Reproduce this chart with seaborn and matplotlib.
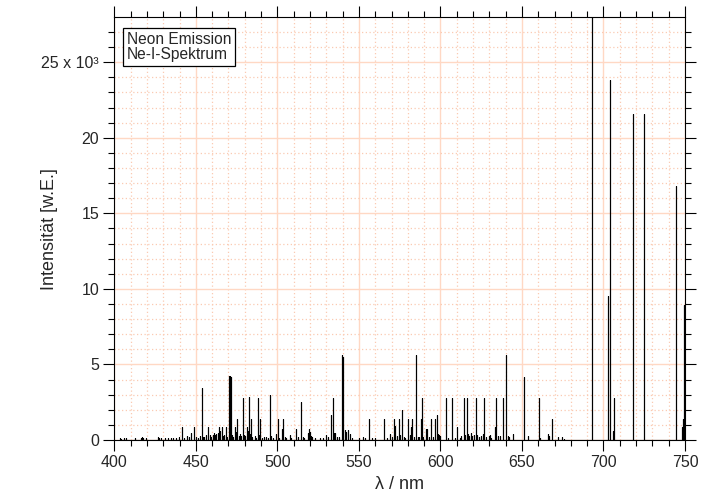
import numpy as np
import pandas as pd
import matplotlib
matplotlib.use("Agg")
import matplotlib.pyplot as plt
import seaborn as sns
from matplotlib.ticker import MultipleLocator, FuncFormatter

# ---- data: emission lines (wavelength in nm, intensity in w.E.) ----
wavelength_nm = [
    403.3, 404.2, 406.0, 407.4, 412.6, 416.3, 416.9, 417.6, 419.3, 426.6,
    427.3, 428.6, 430.9, 433.0, 434.5, 436.1, 438.1, 439.6, 441.8, 443.0,
    444.4, 445.7, 447.0, 448.7, 450.0, 451.2, 452.4, 453.6, 454.3, 455.3,
    456.5, 457.6, 458.5, 459.5, 460.8, 461.4, 462.0, 462.6, 463.3, 464.1,
    464.8, 465.8, 466.6, 467.4, 468.2, 469.0, 470.2, 470.6, 471.0, 471.5,
    472.2, 473.0, 474.3, 474.8, 475.4, 476.2, 477.0, 478.0, 478.9, 479.6,
    480.4, 481.1, 481.6, 482.1, 482.6, 483.3, 484.0, 484.7, 486.0, 487.0,
    488.1, 488.8, 489.5, 490.5, 491.6, 493.0, 494.2, 495.5, 496.4, 497.5,
    499.2, 500.4, 501.3, 502.8, 503.7, 504.5, 505.5, 507.6, 508.6, 511.5,
    512.8, 514.6, 515.5, 516.5, 518.6, 519.2, 519.8, 520.5, 521.3, 523.0,
    526.0, 528.0, 530.1, 531.0, 532.9, 534.2, 535.0, 535.6, 536.5, 538.0,
    539.4, 539.8, 540.1, 540.5, 541.4, 542.3, 543.4, 544.4, 546.0, 550.0,
    552.5, 554.0, 556.2, 558.0, 560.0, 565.5, 567.5, 569.2, 570.2, 571.6,
    572.4, 573.5, 574.7, 575.5, 576.6, 577.5, 578.5, 580.3, 581.2, 581.9,
    582.5, 583.5, 585.2, 586.3, 587.0, 587.9, 588.4, 589.5, 591.2, 591.8,
    593.0, 594.4, 595.3, 596.5, 597.6, 598.4, 599.0, 600.0, 603.2, 604.5,
    607.3, 609.0, 610.0, 612.0, 612.8, 614.5, 615.2, 616.3, 617.0, 617.8,
    618.5, 619.3, 620.5, 621.9, 622.5, 623.6, 625.0, 625.8, 626.2, 627.0,
    628.0, 629.8, 630.5, 631.3, 633.5, 633.9, 635.2, 636.5, 638.6, 640.5,
    641.2, 642.0, 644.8, 651.0, 653.4, 660.2, 660.8, 665.7, 666.6, 668.4,
    672.0, 674.5, 676.0, 693.2, 702.8, 703.8, 705.9, 706.3, 718.0, 724.7,
    744.4, 748.0, 748.7, 749.6,
]
intensity = [
    100, 90, 110, 100, 160, 150, 180, 150, 130, 180,
    160, 110, 140, 140, 100, 110, 120, 180, 840, 150,
    250, 220, 440, 840, 200, 120, 250, 3410, 220, 180,
    300, 840, 300, 180, 350, 450, 330, 400, 440, 840,
    600, 840, 250, 300, 840, 200, 4180, 4220, 4230, 4200,
    300, 200, 880, 500, 1380, 250, 400, 250, 2750, 300,
    250, 800, 840, 600, 2850, 400, 1370, 200, 250, 150,
    2810, 300, 1370, 150, 200, 200, 150, 2970, 250, 150,
    400, 1370, 150, 700, 1370, 200, 150, 330, 150, 700,
    200, 2490, 200, 150, 450, 700, 500, 250, 200, 120,
    150, 100, 330, 200, 1650, 2750, 440, 440, 200, 200,
    1500, 5600, 5500, 1200, 660, 500, 660, 370, 120, 100,
    220, 100, 1386, 120, 100, 1386, 120, 370, 200, 1386,
    950, 250, 1386, 300, 1980, 200, 150, 1386, 300, 880,
    1386, 200, 5610, 220, 220, 1386, 2750, 200, 700, 700,
    200, 1386, 200, 1386, 1650, 400, 330, 250, 2750, 150,
    2750, 150, 880, 150, 290, 2750, 300, 2750, 400, 250,
    450, 250, 300, 2750, 350, 200, 250, 300, 400, 2750,
    200, 250, 350, 150, 880, 2750, 250, 250, 2750, 5610,
    250, 200, 370, 4140, 290, 2750, 150, 380, 250, 1390,
    180, 180, 60, 31000, 9500, 23800, 600, 2750, 21550, 21550,
    16790, 840, 1390, 8920,
]
y_tick_labels = ["0", "5", "10", "15", "20", "25 x 10³"]
legend_text = "Neon Emission\nNe-I-Spektrum"

# ---- style ----
sns.set_style("ticks")
plt.rcParams["font.family"] = ["Liberation Sans", "DejaVu Sans"]
plt.rcParams["axes.linewidth"] = 0.8

fig = plt.figure(figsize=(7.22, 4.97), dpi=100)
ax = fig.add_axes([0.1583, 0.1147, 0.7905, 0.8505])

# stick spectrum built from the line list
wl = np.asarray(wavelength_nm, dtype=float)
it = np.asarray(intensity, dtype=float)
xs = np.repeat(wl, 3)
ys = np.column_stack([np.zeros_like(it), it, np.zeros_like(it)]).ravel()
df = pd.DataFrame({"lambda": xs, "I": ys})
sns.lineplot(data=df, x="lambda", y="I", sort=False, estimator=None,
             color="black", lw=0.8, ax=ax)

ax.set_xlim(400, 750)
ax.set_ylim(0, 27970)

ax.xaxis.set_major_locator(MultipleLocator(50))
ax.xaxis.set_minor_locator(MultipleLocator(10))
ax.yaxis.set_major_locator(MultipleLocator(5000))
ax.yaxis.set_minor_locator(MultipleLocator(1000))


def yfmt(v, pos):
    i = int(round(v / 5000))
    if 0 <= i < len(y_tick_labels) and abs(v - i * 5000) < 1:
        return y_tick_labels[i]
    return ""


ax.yaxis.set_major_formatter(FuncFormatter(yfmt))

ax.set_axisbelow(True)
ax.grid(which="major", color="#ffd8c4", lw=1.0, ls="-")
ax.grid(which="minor", color="#fbcab2", lw=0.9, ls=(0, (1, 2)))

ax.tick_params(which="both", direction="out", top=True, right=True,
               width=0.8, color="black", labelsize=11.5, pad=3)
ax.tick_params(which="major", length=8)
ax.tick_params(which="minor", length=4)
for s in ax.spines.values():
    s.set_visible(True)
    s.set_linewidth(0.8)
    s.set_color("black")

ax.set_xlabel("λ / nm", fontsize=13)
ax.set_ylabel("Intensität [w.E.]", fontsize=13)
ax.xaxis.label.set_va("center")
ax.yaxis.label.set_va("center")
ax.xaxis.set_label_coords(0.5, -0.106)
ax.yaxis.set_label_coords(-0.1127, 0.5)

ax.text(0.0217, 0.9655, legend_text, transform=ax.transAxes,
        ha="left", va="top", fontsize=11.2, linespacing=1.02,
        bbox=dict(boxstyle="square,pad=0.26", fc="white", ec="black", lw=0.9),
        zorder=5)

fig.savefig("out.png", dpi=100)
